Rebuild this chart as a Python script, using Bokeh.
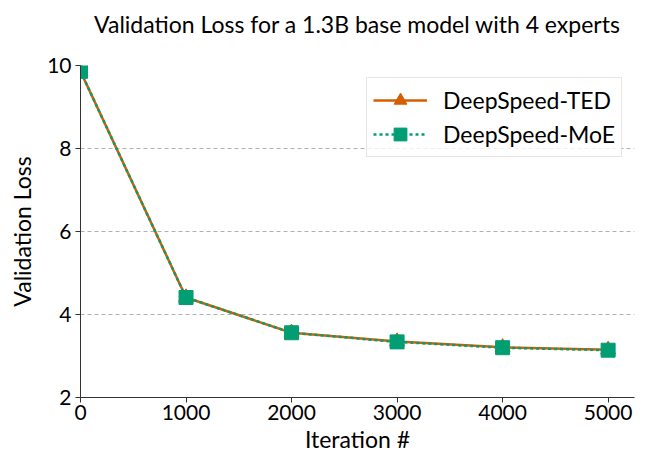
from bokeh.plotting import figure
from bokeh.models import Range1d, Legend, LegendItem, FixedTicker, Title
from bokeh.embed import file_html
from bokeh.resources import INLINE

iterations = [0, 1000, 2000, 3000, 4000, 5000]
ted_loss = [9.86, 4.41, 3.56, 3.35, 3.21, 3.15]
moe_loss = [9.86, 4.41, 3.56, 3.34, 3.20, 3.14]
x_ticks = [0, 1000, 2000, 3000, 4000, 5000]
y_ticks = [2, 4, 6, 8, 10]

FONT = "Lato"
ORANGE = "#D55E00"
GREEN = "#029E73"

p = figure(width=640, height=455, output_backend="svg", toolbar_location=None,
           x_range=Range1d(0, 5250), y_range=Range1d(2, 10),
           min_border_left=80, min_border_right=6, min_border_top=65, min_border_bottom=58)

p.title.text = "Validation Loss for a 1.3B base model with 4 experts"
p.title.text_font = FONT
p.title.text_font_size = "23px"
p.title.text_font_style = "normal"
p.title.text_color = "black"
p.title.align = "center"
p.title.offset = 0
p.title.standoff = 10

# empty spacer between the title and the plot area
p.add_layout(Title(text=" ", text_font_size="12px", standoff=7), "above")

p.outline_line_color = None
p.xgrid.grid_line_color = None
p.ygrid.grid_line_color = "#b0b0b0"
p.ygrid.grid_line_dash = "4 3"
p.ygrid.grid_line_width = 1

p.xaxis.ticker = FixedTicker(ticks=x_ticks)
p.yaxis.ticker = FixedTicker(ticks=y_ticks)
for ax in (p.xaxis[0], p.yaxis[0]):
    ax.major_label_text_font = FONT
    ax.major_label_text_font_size = "21px"
    ax.major_label_text_color = "black"
    ax.axis_label_text_font = FONT
    ax.axis_label_text_font_size = "23px"
    ax.axis_label_text_font_style = "normal"
    ax.axis_label_text_color = "black"
    ax.axis_line_color = "#333333"
    ax.major_tick_line_color = "#333333"
    ax.major_tick_out = 5
    ax.major_tick_in = 0
    ax.minor_tick_line_color = None
p.xaxis.major_label_standoff = 2
p.yaxis.major_label_standoff = 4
p.xaxis.axis_label = "Iteration #"
p.yaxis.axis_label = "Validation Loss"
p.xaxis.axis_label_standoff = 2
p.yaxis.axis_label_standoff = 8

l1 = p.line(iterations, ted_loss, line_color=ORANGE, line_width=2.5)
m1 = p.scatter(iterations, ted_loss, marker="triangle", size=15, fill_color=ORANGE, line_color=ORANGE)
l2 = p.line(iterations, moe_loss, line_color=GREEN, line_width=2.5, line_dash="3 3")
m2 = p.scatter(iterations, moe_loss, marker="square", size=14, fill_color=GREEN, line_color=GREEN)

legend = Legend(items=[LegendItem(label="DeepSpeed-TED", renderers=[l1, m1]),
                       LegendItem(label="DeepSpeed-MoE", renderers=[l2, m2])],
                location="top_right")
legend.label_text_font = FONT
legend.label_text_font_size = "23px"
legend.label_text_color = "black"
legend.glyph_width = 54
legend.glyph_height = 32
legend.label_height = 32
legend.spacing = 2
legend.padding = 6
legend.margin = 12
legend.label_standoff = 16
legend.border_line_color = "#cccccc"
legend.border_line_width = 1
legend.background_fill_alpha = 0.8
p.add_layout(legend)

open("out.html", "w").write(file_html(p, INLINE))
